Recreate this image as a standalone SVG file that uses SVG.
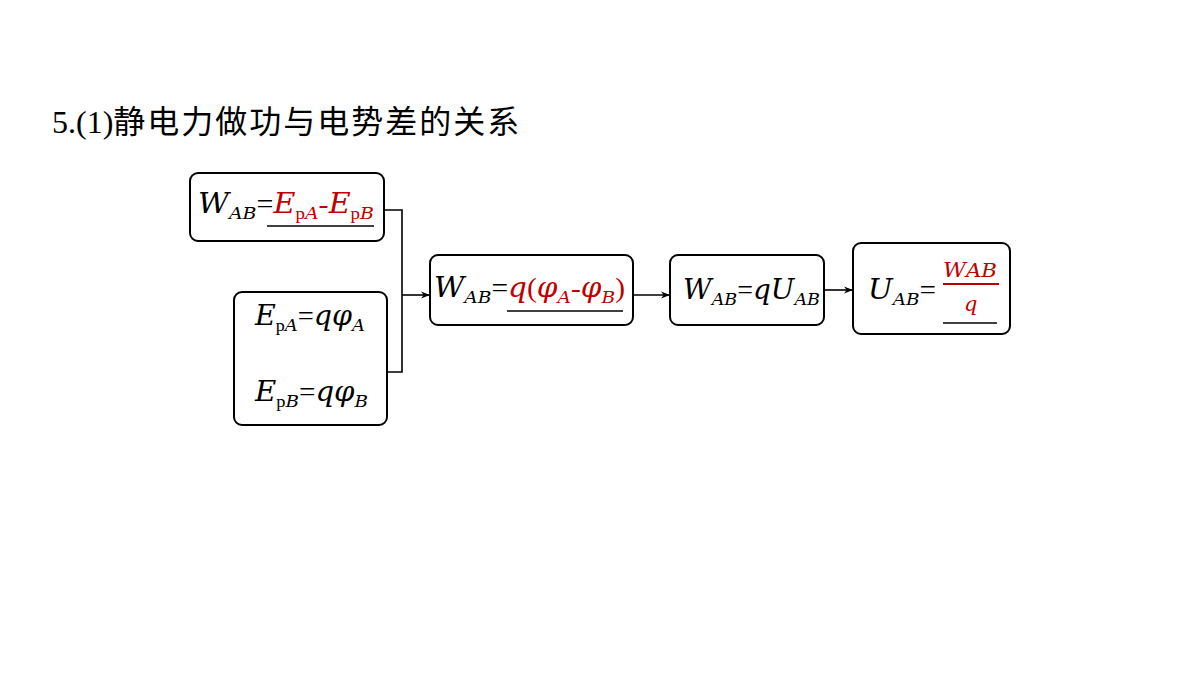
<svg xmlns="http://www.w3.org/2000/svg" width="1200" height="676" viewBox="0 0 1200 676">
<defs>
<style>
.box{fill:#fff;stroke:#000;stroke-width:2}
.t{font-size:27px;fill:#000}
.i{font-style:italic;font-family:"DejaVu Serif",serif}
.s{font-size:17px}
.r{fill:#c00000}
.ln{stroke:#000;stroke-width:1.6;fill:none}
.ul{stroke:#000;stroke-width:1.5}
.fr{stroke:#c00000;stroke-width:2}
</style>
<marker id="ar" viewBox="0 0 10 10" refX="10" refY="5" markerWidth="9" markerHeight="9" orient="auto" markerUnits="userSpaceOnUse"><path d="M0,1 L10,5 L0,9 L3,5 Z" fill="#000"/></marker>
</defs>
<rect width="1200" height="676" fill="#fff"/>
<text x="52" y="133" font-family="Liberation Serif, serif" font-size="32">5.(1)<tspan font-family="Noto Sans CJK SC, sans-serif" font-size="32" letter-spacing="2">静电力做功与电势差的关系</tspan></text>
<g id="connectors">
<polyline class="ln" points="384,210 402,210 402,372 387,372"/>
<line class="ln" x1="402" y1="295" x2="430" y2="295" marker-end="url(#ar)"/>
<line class="ln" x1="633" y1="295" x2="670" y2="295" marker-end="url(#ar)"/>
<line class="ln" x1="824" y1="290" x2="853" y2="290" marker-end="url(#ar)"/>
</g>
<g font-family="Liberation Serif, Times New Roman, serif">
<g id="n1">
<rect class="box" x="190" y="173" width="194" height="68" rx="8"/>
<text class="t" x="198" y="213" textLength="176" lengthAdjust="spacingAndGlyphs"><tspan class="i">W</tspan><tspan class="i s" dy="6">AB</tspan><tspan dy="-6">=</tspan><tspan class="r i">E</tspan><tspan class="r s" dy="6">p</tspan><tspan class="r s i">A</tspan><tspan class="r" dy="-6">-</tspan><tspan class="r i">E</tspan><tspan class="r s" dy="6">p</tspan><tspan class="r s i">B</tspan></text>
<line class="ul" x1="267" y1="226" x2="374" y2="226"/>
</g>
<g id="n2">
<rect class="box" x="234" y="292" width="153" height="133" rx="8"/>
<text class="t" x="255" y="325" textLength="110" lengthAdjust="spacingAndGlyphs"><tspan class="i">E</tspan><tspan class="s" dy="6">p</tspan><tspan class="s i">A</tspan><tspan dy="-6">=</tspan><tspan class="i">qφ</tspan><tspan class="s i" dy="6">A</tspan></text>
<text class="t" x="255" y="401" textLength="113" lengthAdjust="spacingAndGlyphs"><tspan class="i">E</tspan><tspan class="s" dy="6">p</tspan><tspan class="s i">B</tspan><tspan dy="-6">=</tspan><tspan class="i">qφ</tspan><tspan class="s i" dy="6">B</tspan></text>
</g>
<g id="n3">
<rect class="box" x="430" y="255" width="203" height="70" rx="8"/>
<text class="t" x="434" y="297" textLength="191" lengthAdjust="spacingAndGlyphs"><tspan class="i">W</tspan><tspan class="i s" dy="6">AB</tspan><tspan dy="-6">=</tspan><tspan class="r i">q</tspan><tspan class="r">(</tspan><tspan class="r i">φ</tspan><tspan class="r i s" dy="6">A</tspan><tspan class="r" dy="-6">-</tspan><tspan class="r i">φ</tspan><tspan class="r i s" dy="6">B</tspan><tspan class="r" dy="-6">)</tspan></text>
<line class="ul" x1="507" y1="311" x2="623" y2="311"/>
</g>
<g id="n4">
<rect class="box" x="670" y="255" width="154" height="70" rx="8"/>
<text class="t" x="683" y="299" textLength="137" lengthAdjust="spacingAndGlyphs"><tspan class="i">W</tspan><tspan class="i s" dy="6">AB</tspan><tspan dy="-6">=</tspan><tspan class="i">qU</tspan><tspan class="i s" dy="6">AB</tspan></text>
</g>
<g id="n5">
<rect class="box" x="853" y="243" width="157" height="91" rx="8"/>
<text class="t" x="868" y="299" textLength="68" lengthAdjust="spacingAndGlyphs"><tspan class="i">U</tspan><tspan class="i s" dy="6">AB</tspan><tspan dy="-6">=</tspan></text>
<text class="r i" x="943" y="277" font-size="20" textLength="54" lengthAdjust="spacingAndGlyphs">W<tspan font-size="19">AB</tspan></text>
<line class="fr" x1="943" y1="284" x2="999" y2="284"/>
<text class="r i" x="964" y="311" font-size="21">q</text>
<line class="ul" x1="943" y1="323" x2="997" y2="323"/>
</g>
</g>
</svg>
